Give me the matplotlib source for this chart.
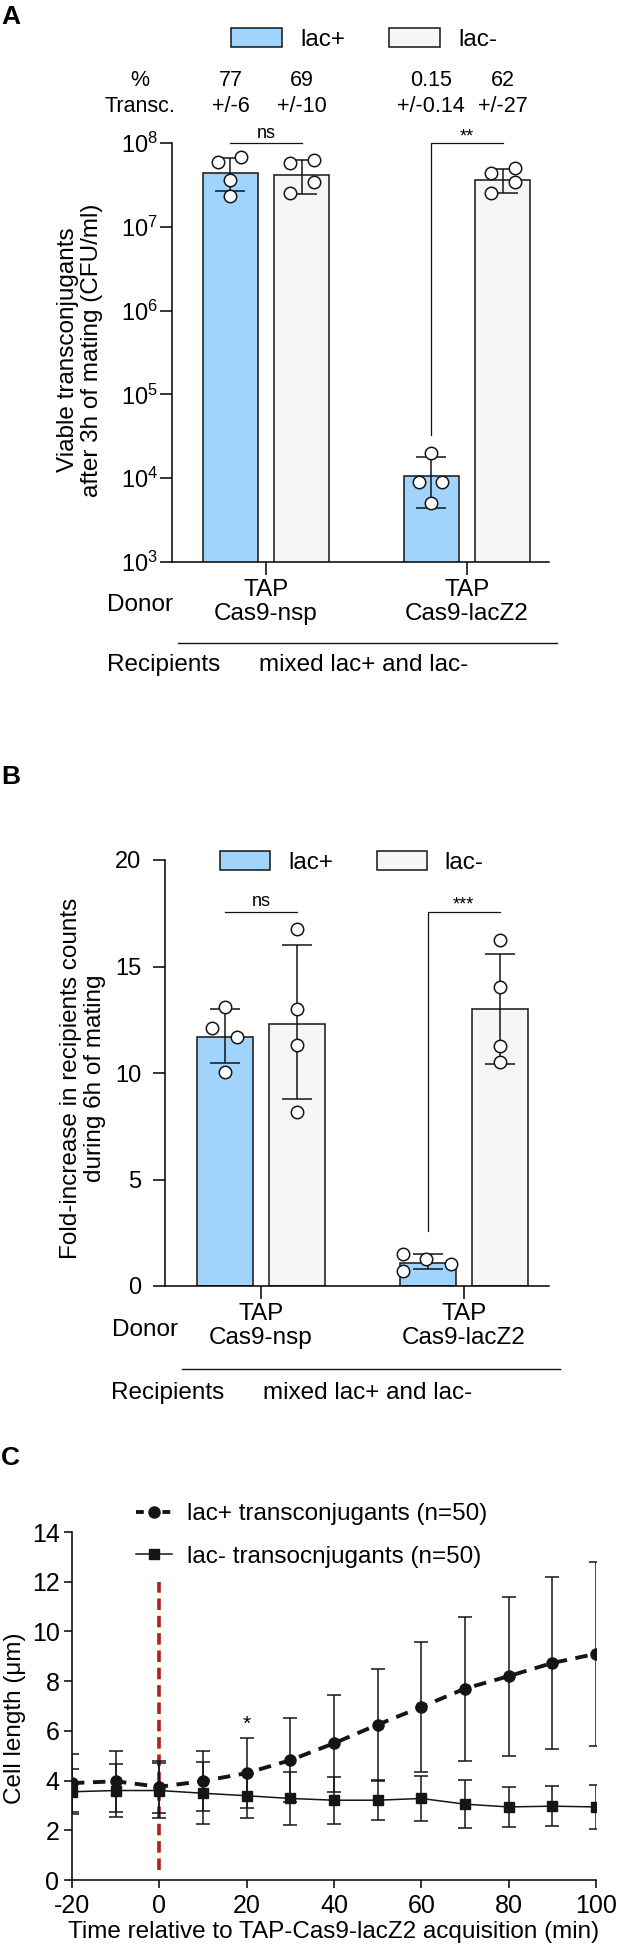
import numpy as np
import matplotlib.pyplot as plt
from matplotlib import transforms
from matplotlib.lines import Line2D
from matplotlib.patches import Patch

plt.rcParams['font.family'] = ['Liberation Sans', 'DejaVu Sans']
plt.rcParams['mathtext.fontset'] = 'custom'
plt.rcParams['mathtext.rm'] = 'Liberation Sans'
plt.rcParams['mathtext.it'] = 'Liberation Sans:italic'
plt.rcParams['axes.linewidth'] = 1.1
plt.rcParams['axes.unicode_minus'] = False

# ---------------- data ----------------
groups = ['TAP\nCas9-nsp', 'TAP\nCas9-lacZ2']
series = ['lac+', 'lac-']

# panel A: viable transconjugants (CFU/ml)
a_lacp_mean = [4.4e7, 1.05e4]
a_lacm_mean = [4.2e7, 3.6e7]
a_lacp_lo = [2.7e7, 4.4e3]
a_lacp_hi = [6.6e7, 1.78e4]
a_lacm_lo = [2.47e7, 2.5e7]
a_lacm_hi = [6.3e7, 4.9e7]
a_lacp_pts = [[5.9e7, 6.8e7, 3.6e7, 2.3e7], [2.0e4, 9.0e3, 9.0e3, 5.0e3]]
a_lacm_pts = [[5.8e7, 6.3e7, 3.4e7, 2.5e7], [4.4e7, 5.0e7, 3.4e7, 2.5e7]]
a_pct_lacp = ['77', '0.15']
a_pct_lacp_sd = ['6', '0.14']
a_pct_lacm = ['69', '62']
a_pct_lacm_sd = ['10', '27']
a_sig = ['ns', '**']

# panel B: fold-increase in recipients counts
b_lacp_mean = [11.7, 1.1]
b_lacm_mean = [12.3, 13.0]
b_lacp_lo = [10.47, 0.8]
b_lacp_hi = [13.0, 1.5]
b_lacm_lo = [8.78, 10.4]
b_lacm_hi = [16.0, 15.6]
b_lacp_pts = [[13.1, 12.1, 11.7, 10.05], [1.5, 1.25, 1.05, 0.7]]
b_lacm_pts = [[16.76, 13.0, 11.3, 8.17], [16.24, 14.04, 11.27, 10.5]]
b_sig = ['ns', '***']

# panel C: cell length over time
t = [-20, -10, 0, 10, 20, 30, 40, 50, 60, 70, 80, 90, 100]
lacp_len = [3.9, 3.97, 3.75, 3.98, 4.3, 4.82, 5.5, 6.25, 6.96, 7.7, 8.2, 8.73, 9.1]
lacp_sd = [1.15, 1.23, 1.05, 1.2, 1.4, 1.7, 1.95, 2.25, 2.6, 2.9, 3.2, 3.45, 3.7]
lacm_len = [3.55, 3.6, 3.6, 3.49, 3.39, 3.28, 3.21, 3.21, 3.28, 3.05, 2.94, 2.97, 2.94]
lacm_sd = [0.9, 1.05, 1.1, 1.24, 0.89, 1.08, 0.94, 0.81, 0.91, 0.97, 0.8, 0.8, 0.9]
c_labels = ['lac+ transconjugants (n=50)', 'lac- transocnjugants (n=50)']
acq_time = 0
star_time = 20

# ---------------- style / layout ----------------
c_lacp = '#a0d4fc'
c_lacm = '#f5f7f6'
ink = '#151515'
W, H = 620, 1959
FS = 17.5

def fx(px):
    return px / W

def fy(py):
    return 1 - py / H

fig = plt.figure(figsize=(6.2, 19.59), dpi=100)

bw = 0.275
off = 0.1775
# horizontal scatter of the replicate dots (data units)
jit_a = [[[-0.062, 0.052, 0, 0], [0, -0.06, 0.055, 0]],
         [[-0.06, 0.06, 0.06, -0.06], [-0.06, 0.06, 0.06, -0.06]]]
jit_b = [[[0, -0.065, 0.06, 0], [-0.12, -0.01, 0.115, -0.12]],
         [[0, 0, 0, 0], [0, 0, 0, 0]]]


def bar_panel(ax, means, los, his, pts, jit):
    x = np.arange(len(groups))
    for k, (sign, col) in enumerate([(-1, c_lacp), (1, c_lacm)]):
        xs = x + sign * off
        m = np.array(means[k])
        ax.bar(xs, m, bw, color=col, edgecolor=ink, linewidth=1.1, zorder=2)
        ax.errorbar(xs, m, yerr=[m - np.array(los[k]), np.array(his[k]) - m],
                    fmt='none', ecolor=ink, elinewidth=1.1, capsize=11,
                    capthick=1.1, zorder=3)
        for g in range(len(groups)):
            ax.scatter(xs[g] + np.array(jit[k][g]), pts[k][g], s=80,
                       facecolor='white', edgecolor=ink, linewidth=1.1,
                       zorder=4, clip_on=False)
    ax.spines[['top', 'right']].set_visible(False)
    ax.set_xticks(x)
    ax.set_xticklabels(groups, fontsize=FS, linespacing=1.15)
    ax.tick_params(axis='x', length=9, width=1.1, pad=3)
    ax.tick_params(axis='y', length=9, width=1.1, labelsize=17)


def bracket(ax, g, y, ytxt, text, leg=None):
    xl, xr = g - off, g + off
    if leg is None:
        ax.plot([xl, xr], [y, y], color=ink, lw=0.9, clip_on=False)
    else:
        ax.plot([xl, xl, xr], [leg, y, y], color=ink, lw=0.9, clip_on=False)
    tr = transforms.blended_transform_factory(ax.transData, fig.transFigure)
    ax.text(g, ytxt, text, transform=tr, ha='center', va='center',
            fontsize=13)


# ---------------- panel A ----------------
axA = fig.add_axes([fx(172), fy(562), fx(549) - fx(172), (562 - 143) / H])
axA.set_yscale('log')
bar_panel(axA, [a_lacp_mean, a_lacm_mean], [a_lacp_lo, a_lacm_lo],
          [a_lacp_hi, a_lacm_hi], [a_lacp_pts, a_lacm_pts], jit_a)
axA.set_ylim(1e3, 1e8)
axA.set_xlim(-0.468, 1.408)
axA.set_yticks([1e3, 1e4, 1e5, 1e6, 1e7, 1e8])
axA.minorticks_off()
axA.tick_params(axis='y', pad=1)
bracket(axA, 0, 1e8, fy(134), a_sig[0])
bracket(axA, 1, 1e8, fy(137), a_sig[1], leg=3.3e4)

trA = transforms.blended_transform_factory(axA.transData, fig.transFigure)
fig.text(fx(140), fy(80), '%', ha='center', va='center', fontsize=15.5)
fig.text(fx(140), fy(106), 'Transc.', ha='center', va='center', fontsize=15.5)
for g in range(len(groups)):
    for sign, v, sd in [(-1, a_pct_lacp[g], a_pct_lacp_sd[g]),
                        (1, a_pct_lacm[g], a_pct_lacm_sd[g])]:
        axA.text(g + sign * off, fy(80), v, transform=trA, ha='center',
                 va='center', fontsize=15.5)
        axA.text(g + sign * off, fy(106), '+/-' + sd, transform=trA,
                 ha='center', va='center', fontsize=15.5)

handles = [Patch(facecolor=c_lacp, edgecolor=ink, linewidth=1.1, label=series[0]),
           Patch(facecolor=c_lacm, edgecolor=ink, linewidth=1.1, label=series[1])]
fig.legend(handles=handles, loc='upper left', bbox_to_anchor=(fx(231), fy(28)),
           ncol=2, frameon=False, fontsize=FS, borderpad=0, borderaxespad=0,
           handlelength=2.1, handleheight=0.85, handletextpad=0.75,
           columnspacing=1.8)

fig.text(fx(80), fy(350), 'Viable transconjugants\nafter 3h of mating (CFU/ml)',
         rotation=90, ha='center', va='center', fontsize=FS, linespacing=1.1)
fig.text(fx(140), fy(605), 'Donor', ha='center', va='center', fontsize=FS)
fig.add_artist(Line2D([fx(178), fx(557)], [fy(643), fy(643)], color=ink, lw=1.0))
fig.text(fx(107), fy(665), 'Recipients', ha='left', va='center', fontsize=FS)
fig.text(fx(259), fy(665), 'mixed lac+ and lac-', ha='left', va='center', fontsize=FS)
fig.text(fx(1), fy(17), 'A', ha='left', va='center', fontsize=19, fontweight='bold')

# ---------------- panel B ----------------
axB = fig.add_axes([fx(165), fy(1286), fx(549) - fx(165), (1286 - 860) / H])
bar_panel(axB, [b_lacp_mean, b_lacm_mean], [b_lacp_lo, b_lacm_lo],
          [b_lacp_hi, b_lacm_hi], [b_lacp_pts, b_lacm_pts], jit_b)
axB.set_ylim(0, 20)
axB.set_xlim(-0.473, 1.42)
axB.set_yticks([0, 5, 10, 15, 20])
axB.tick_params(axis='y', pad=8)
bracket(axB, 0, 17.56, fy(902), b_sig[0])
bracket(axB, 1, 17.56, fy(905), b_sig[1], leg=2.58)

handles = [Patch(facecolor=c_lacp, edgecolor=ink, linewidth=1.1, label=series[0]),
           Patch(facecolor=c_lacm, edgecolor=ink, linewidth=1.1, label=series[1])]
fig.legend(handles=handles, loc='upper left', bbox_to_anchor=(fx(220), fy(851)),
           ncol=2, frameon=False, fontsize=FS, borderpad=0, borderaxespad=0,
           handlelength=2.05, handleheight=0.85, handletextpad=0.75,
           columnspacing=1.8)

fig.text(fx(83), fy(1078), 'Fold-increase in recipients counts\nduring 6h of mating',
         rotation=90, ha='center', va='center', fontsize=FS, linespacing=1.1)
fig.text(fx(145), fy(1330), 'Donor', ha='center', va='center', fontsize=FS)
fig.add_artist(Line2D([fx(182), fx(560)], [fy(1369), fy(1369)], color=ink, lw=1.0))
fig.text(fx(111), fy(1393), 'Recipients', ha='left', va='center', fontsize=FS)
fig.text(fx(263), fy(1393), 'mixed lac+ and lac-', ha='left', va='center', fontsize=FS)
fig.text(fx(1), fy(777), 'B', ha='left', va='center', fontsize=19, fontweight='bold')

# ---------------- panel C ----------------
axC = fig.add_axes([fx(72), fy(1880), fx(596) - fx(72), (1880 - 1532) / H])
axC.axvline(acq_time, ymin=0.4 / 14, ymax=12 / 14, color='#b01e1e', lw=2.6,
            dashes=(3.2, 1.6), zorder=1)
axC.errorbar(t, lacm_len, yerr=lacm_sd, fmt='s', ls='-', lw=1.1, ms=7.5,
             color=ink, elinewidth=1.1, capsize=5, capthick=1.1, zorder=3)
axC.errorbar(t, lacp_len, yerr=lacp_sd, fmt='o', ls=(0, (3.2, 2.2)), lw=2.8,
             ms=8, color=ink, elinewidth=1.1, capsize=5, capthick=1.1, zorder=4)
i = t.index(star_time)
axC.text(star_time, lacp_len[i] + lacp_sd[i] + 0.55, '*', ha='center',
         va='center', fontsize=15)
axC.set_xlim(-20, 100)
axC.set_ylim(0, 14)
axC.set_xticks(range(-20, 101, 20))
axC.set_yticks(range(0, 15, 2))
axC.spines[['top', 'right']].set_visible(False)
axC.tick_params(axis='both', length=6, width=1.1, labelsize=18)
axC.tick_params(axis='x', pad=4)
axC.tick_params(axis='y', pad=3)
axC.set_xlabel('Time relative to TAP-Cas9-lacZ2 acquisition (min)', fontsize=FS,
               labelpad=2)
fig.text(fx(15), fy(1718), 'Cell length (\u03bcm)', rotation=90, ha='center',
         va='center', fontsize=FS)
h = [Line2D([], [], color=ink, lw=2.8, ls=(0, (2.0, 1.4)), marker='o', ms=8),
     Line2D([], [], color=ink, lw=1.1, marker='s', ms=7.5)]
fig.legend(h, c_labels, loc='upper left', bbox_to_anchor=(fx(136), fy(1503)),
           frameon=False, fontsize=FS, borderpad=0, borderaxespad=0,
           handlelength=1.5, handletextpad=0.6, labelspacing=0.85, numpoints=1)
fig.text(fx(1), fy(1458), 'C', ha='left', va='center', fontsize=19, fontweight='bold')

fig.savefig('out.png', dpi=100)
